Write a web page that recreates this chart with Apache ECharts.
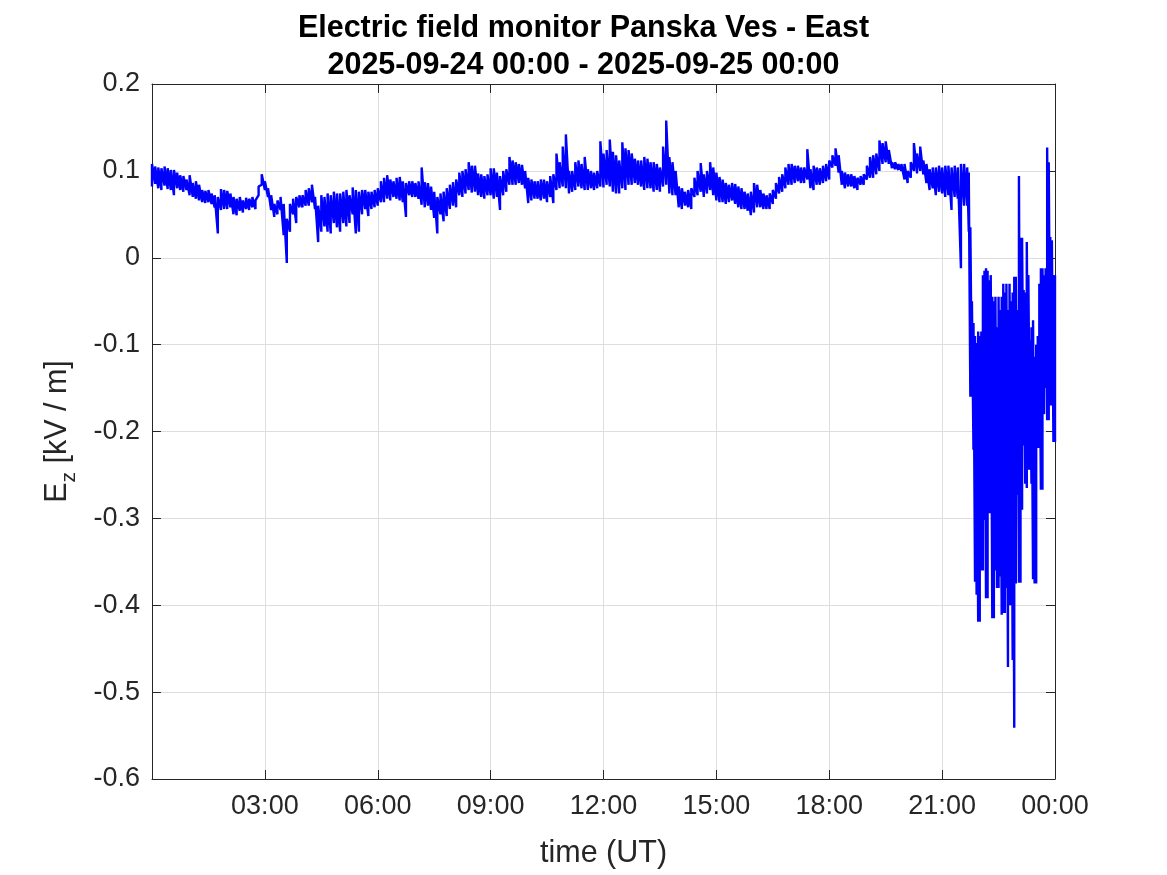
<!DOCTYPE html>
<html>
<head>
<meta charset="utf-8">
<script src="https://cdn.jsdelivr.net/npm/echarts@6/dist/echarts.min.js"></script>
<style>
  html, body { margin: 0; padding: 0; background: #fff; }
  #chart { width: 1167px; height: 875px; }
</style>
</head>
<body>
<div id="chart"></div>
<script>
// E_z in kV/m, min/max per 5-minute bin from 00:00 to 21:35 (UT), one row per hour
var calmStepMin = 5;
var calmHi = [
  0.108, 0.105, 0.104, 0.103, 0.105, 0.103, 0.101, 0.101, 0.098, 0.095, 0.094, 0.090,
  0.095, 0.086, 0.088, 0.084, 0.078, 0.077, 0.078, 0.074, 0.072, 0.070, 0.079, 0.078,
  0.077, 0.074, 0.070, 0.068, 0.070, 0.066, 0.069, 0.068, 0.070, 0.066, 0.082, 0.096,
  0.088, 0.080, 0.072, 0.062, 0.066, 0.070, 0.062, 0.045, 0.062, 0.068, 0.070, 0.072,
  0.072, 0.078, 0.080, 0.084, 0.070, 0.060, 0.072, 0.070, 0.074, 0.072, 0.076, 0.074,
  0.074, 0.076, 0.078, 0.072, 0.081, 0.078, 0.076, 0.078, 0.078, 0.076, 0.076, 0.078,
  0.080, 0.088, 0.092, 0.095, 0.090, 0.088, 0.092, 0.093, 0.088, 0.086, 0.088, 0.088,
  0.086, 0.088, 0.104, 0.087, 0.086, 0.082, 0.076, 0.070, 0.074, 0.076, 0.080, 0.084,
  0.087, 0.090, 0.098, 0.100, 0.102, 0.110, 0.106, 0.106, 0.097, 0.096, 0.094, 0.096,
  0.103, 0.103, 0.098, 0.094, 0.100, 0.102, 0.116, 0.112, 0.110, 0.108, 0.107, 0.100,
  0.092, 0.090, 0.088, 0.088, 0.090, 0.090, 0.088, 0.094, 0.096, 0.120, 0.110, 0.128,
  0.142, 0.100, 0.100, 0.110, 0.112, 0.108, 0.116, 0.102, 0.100, 0.098, 0.100, 0.134,
  0.120, 0.124, 0.136, 0.122, 0.118, 0.112, 0.133, 0.126, 0.124, 0.120, 0.114, 0.112,
  0.112, 0.116, 0.114, 0.110, 0.110, 0.108, 0.104, 0.128, 0.158, 0.116, 0.110, 0.100,
  0.082, 0.080, 0.076, 0.078, 0.080, 0.092, 0.100, 0.109, 0.096, 0.100, 0.110, 0.104,
  0.098, 0.093, 0.090, 0.086, 0.084, 0.086, 0.085, 0.082, 0.080, 0.076, 0.074, 0.076,
  0.086, 0.084, 0.078, 0.074, 0.072, 0.074, 0.078, 0.086, 0.093, 0.096, 0.104, 0.108,
  0.108, 0.106, 0.106, 0.104, 0.104, 0.125, 0.102, 0.106, 0.104, 0.103, 0.106, 0.108,
  0.112, 0.118, 0.126, 0.118, 0.100, 0.098, 0.096, 0.096, 0.094, 0.092, 0.094, 0.096,
  0.106, 0.116, 0.118, 0.120, 0.135, 0.132, 0.134, 0.124, 0.110, 0.110, 0.108, 0.108,
  0.108, 0.100, 0.110, 0.132, 0.120, 0.128, 0.112, 0.108, 0.102, 0.104, 0.104, 0.106,
  0.104, 0.106, 0.106, 0.104, 0.106, 0.104, 0.108, 0.108
];
var calmLo = [
  0.082, 0.085, 0.080, 0.078, 0.083, 0.079, 0.078, 0.072, 0.080, 0.078, 0.076, 0.078,
  0.072, 0.070, 0.068, 0.066, 0.064, 0.063, 0.064, 0.062, 0.058, 0.028, 0.055, 0.056,
  0.056, 0.058, 0.050, 0.049, 0.054, 0.052, 0.056, 0.055, 0.058, 0.056, 0.072, 0.084,
  0.078, 0.070, 0.055, 0.047, 0.050, 0.055, 0.026, -0.006, 0.030, 0.050, 0.040, 0.058,
  0.058, 0.060, 0.060, 0.064, 0.056, 0.018, 0.030, 0.036, 0.030, 0.028, 0.040, 0.035,
  0.030, 0.040, 0.036, 0.040, 0.050, 0.028, 0.030, 0.050, 0.056, 0.048, 0.056, 0.058,
  0.060, 0.064, 0.064, 0.068, 0.066, 0.070, 0.068, 0.066, 0.064, 0.047, 0.072, 0.070,
  0.070, 0.068, 0.061, 0.058, 0.060, 0.055, 0.046, 0.028, 0.050, 0.042, 0.048, 0.056,
  0.060, 0.058, 0.072, 0.070, 0.074, 0.078, 0.075, 0.076, 0.072, 0.070, 0.068, 0.072,
  0.072, 0.068, 0.070, 0.055, 0.072, 0.076, 0.084, 0.084, 0.084, 0.086, 0.084, 0.080,
  0.063, 0.066, 0.068, 0.068, 0.066, 0.068, 0.064, 0.070, 0.063, 0.078, 0.080, 0.082,
  0.080, 0.074, 0.076, 0.078, 0.082, 0.080, 0.078, 0.078, 0.080, 0.078, 0.080, 0.082,
  0.081, 0.084, 0.082, 0.076, 0.074, 0.074, 0.080, 0.078, 0.084, 0.084, 0.086, 0.084,
  0.082, 0.078, 0.080, 0.080, 0.076, 0.078, 0.076, 0.082, 0.084, 0.074, 0.072, 0.072,
  0.058, 0.056, 0.060, 0.058, 0.056, 0.070, 0.072, 0.076, 0.070, 0.074, 0.078, 0.072,
  0.066, 0.064, 0.064, 0.062, 0.064, 0.066, 0.062, 0.058, 0.056, 0.056, 0.054, 0.049,
  0.052, 0.058, 0.058, 0.056, 0.056, 0.056, 0.062, 0.068, 0.074, 0.076, 0.080, 0.084,
  0.084, 0.086, 0.088, 0.086, 0.086, 0.090, 0.080, 0.078, 0.084, 0.084, 0.086, 0.088,
  0.090, 0.104, 0.106, 0.098, 0.084, 0.080, 0.082, 0.082, 0.080, 0.078, 0.084, 0.084,
  0.090, 0.092, 0.092, 0.096, 0.100, 0.108, 0.110, 0.108, 0.103, 0.102, 0.101, 0.100,
  0.090, 0.086, 0.092, 0.100, 0.097, 0.100, 0.096, 0.086, 0.078, 0.080, 0.072, 0.076,
  0.074, 0.070, 0.072, 0.055, 0.070, 0.068, -0.012, 0.060
];

// storm part, min/max per 2.5-minute bin from 21:40 to 24:00
var stormStartMin = 21 * 60 + 40;
var stormStepMin = 2.5;
var stormHi = [
  0.104, 0.098, 0.035, -0.050, -0.075, -0.090, -0.098, -0.085, -0.090, -0.085,
  -0.020, -0.015, -0.012, -0.015, -0.026, -0.020, -0.045, -0.050, -0.045, -0.080,
  -0.045, -0.060, -0.045, -0.030, -0.040, -0.030, -0.060, -0.030, -0.050, -0.040,
  -0.022, -0.022, -0.060, 0.094, 0.023, 0.023, -0.037, -0.040, 0.018, -0.020,
  -0.095, -0.080, -0.072, -0.114, -0.100, -0.090, -0.030, -0.012, -0.012, -0.020,
  -0.012, 0.127, 0.110, 0.024, 0.020, -0.020, -0.020
];
var stormLo = [
  0.060, 0.030, -0.160, -0.160, -0.221, -0.373, -0.388, -0.419, -0.419, -0.360,
  -0.360, -0.302, -0.392, -0.392, -0.294, -0.294, -0.415, -0.415, -0.360, -0.380,
  -0.380, -0.367, -0.411, -0.409, -0.409, -0.380, -0.471, -0.400, -0.400, -0.463,
  -0.541, -0.375, -0.273, -0.374, -0.374, -0.290, -0.216, -0.260, -0.265, -0.244,
  -0.244, -0.260, -0.370, -0.375, -0.375, -0.219, -0.219, -0.267, -0.267, -0.180,
  -0.150, -0.187, -0.187, -0.170, -0.170, -0.212, -0.212
];

var yTicks = { min: -0.6, max: 0.2, step: 0.1 };
var xTicks = { min: 0, max: 24, step: 3 };

// each bin: a vertical stroke from its min up to its max, then on to the next min
var series = [];
function addBin(t, hi, lo) {
  series.push([t, lo]);
  series.push([t, hi]);
}
calmHi.forEach(function (v, i) { addBin(i * calmStepMin / 60, v, calmLo[i]); });
stormHi.forEach(function (v, i) { addBin((stormStartMin + i * stormStepMin) / 60, v, stormLo[i]); });

var font = "'Liberation Sans', Arial, Helvetica, sans-serif";
var ink = '#262626';

function hourLabel(v) {
  if (v === 0) return '';
  var h = Math.round(v) % 24;
  return (h < 10 ? '0' : '') + h + ':00';
}

var chart = echarts.init(document.getElementById('chart'));

var option = {
  animation: false,
  backgroundColor: '#fff',
  title: {
    text: 'Electric field monitor Panska Ves - East\n2025-09-24 00:00 - 2025-09-25 00:00',
    left: 'center',
    top: 5,
    textStyle: { fontFamily: font, fontSize: 30.5, fontWeight: 'bold', color: '#000', lineHeight: 37 }
  },
  grid: { left: 152, right: 112, top: 84, bottom: 96 },
  xAxis: [
    {
      type: 'value', min: xTicks.min, max: xTicks.max, interval: xTicks.step,
      name: 'time (UT)', nameLocation: 'middle', nameGap: 59,
      nameTextStyle: { fontFamily: font, fontSize: 30.5, color: ink },
      axisLine: { show: true, onZero: false, lineStyle: { color: ink, width: 1 } },
      axisTick: { show: true, inside: true, length: 9, lineStyle: { color: ink } },
      axisLabel: { fontFamily: font, fontSize: 27, color: ink, margin: 14, formatter: hourLabel, showMinLabel: true, showMaxLabel: true },
      splitLine: { show: true, lineStyle: { color: '#dedede', width: 1 } }
    },
    {
      type: 'value', position: 'top', min: xTicks.min, max: xTicks.max, interval: xTicks.step,
      axisLine: { show: true, onZero: false, lineStyle: { color: ink, width: 1 } },
      axisTick: { show: true, inside: true, length: 9, lineStyle: { color: ink } },
      axisLabel: { show: false },
      splitLine: { show: false }
    }
  ],
  yAxis: [
    {
      type: 'value', min: yTicks.min, max: yTicks.max, interval: yTicks.step,
      name: '{n|E}{s|z}{n| [kV / m]}', nameLocation: 'middle', nameGap: 80,
      nameTextStyle: {
        rich: {
          n: { fontFamily: font, fontSize: 30.5, color: ink, lineHeight: 30, verticalAlign: 'top' },
          s: { fontFamily: font, fontSize: 21, color: ink, lineHeight: 21, padding: [17, 0, 0, 0], verticalAlign: 'top' }
        }
      },
      axisLine: { show: true, onZero: false, lineStyle: { color: ink, width: 1 } },
      axisTick: { show: true, inside: true, length: 9, lineStyle: { color: ink } },
      axisLabel: {
        fontFamily: font, fontSize: 27, color: ink, margin: 12,
        formatter: function (v) { return Math.abs(v) < 1e-9 ? '0' : v.toFixed(1); }
      },
      splitLine: { show: true, lineStyle: { color: '#dedede', width: 1 } }
    },
    {
      type: 'value', position: 'right', min: yTicks.min, max: yTicks.max, interval: yTicks.step,
      axisLine: { show: true, onZero: false, lineStyle: { color: ink, width: 1 } },
      axisTick: { show: true, inside: true, length: 9, lineStyle: { color: ink } },
      axisLabel: { show: false },
      splitLine: { show: false }
    }
  ],
  series: [
    {
      type: 'line',
      data: series,
      showSymbol: false,
      symbol: 'none',
      sampling: null,
      lineStyle: { color: '#0000ff', width: 2.4 },
      z: 3
    }
  ]
};

chart.setOption(option);
</script>
</body>
</html>
